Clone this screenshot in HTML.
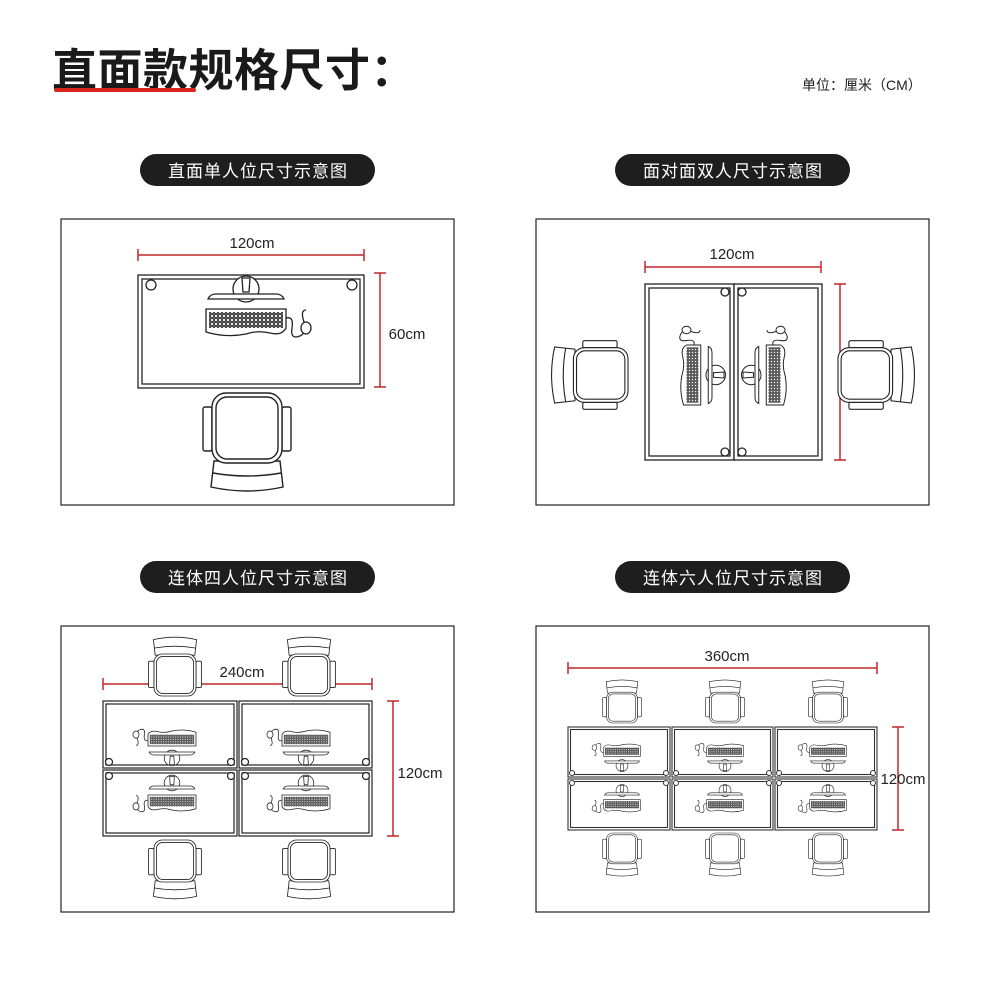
<!DOCTYPE html>
<html><head><meta charset="utf-8"><style>
html,body{margin:0;padding:0;background:#fff;}
svg{display:block;}
text{font-family:"Liberation Sans","Noto Sans CJK SC",sans-serif;}
</style></head><body>
<svg width="990" height="983" viewBox="0 0 990 983" xmlns="http://www.w3.org/2000/svg">
<defs>
<pattern id="keys" width="4" height="4" patternUnits="userSpaceOnUse"><rect width="4" height="4" fill="#fff"/><rect x="0.6" y="0.6" width="2.8" height="2.8" fill="none" stroke="#222" stroke-width="0.9"/></pattern>
<g id="ws" fill="#fff" stroke="#222" stroke-width="1.3">
  <circle cx="0" cy="-25" r="13"/>
  <path d="M-4,-36 L4,-36 L3,-22 L-3,-22 Z" fill="none"/>
  <path d="M-38,-15 Q-36,-20 -30,-20 L30,-20 Q36,-20 38,-15 Z"/>
  <path d="M-40,-5 L40,-5 L40,14 Q36,22 24,19 Q12,16 0,20 Q-20,24 -40,18 Z"/>
  <rect x="-37" y="-2" width="74" height="16" fill="url(#keys)" stroke="none"/>
  <path d="M40,4 Q48,2 46,14 Q44,26 54,22 Q62,18 58,8 Q54,-4 60,-4" fill="none"/>
  <ellipse cx="60" cy="14" rx="5" ry="6" fill="#fff"/>
</g>
<g id="ch" fill="#fff" stroke="#222" stroke-width="1.4">
  <path d="M-33,18 L33,18 L36,44 Q0,52 -36,44 Z"/>
  <path d="M-34,30 Q0,36 34,30" fill="none"/>
  <rect x="-44" y="-36" width="9" height="44" rx="2"/>
  <rect x="35" y="-36" width="9" height="44" rx="2"/>
  <rect x="-35" y="-50" width="70" height="70" rx="14"/>
  <rect x="-31" y="-46" width="62" height="62" rx="11"/>
</g>
</defs>

<!-- header -->
<text x="52" y="86" font-size="45" font-weight="bold" fill="#1a1a1a" letter-spacing="0.5">直面款规格尺寸：</text>
<rect x="54" y="88" width="142" height="4" rx="2" fill="#d9261c"/>
<text x="802" y="90" font-size="14" fill="#222">单位：厘米（CM）</text>

<!-- pills -->
<g font-size="17" fill="#fff" text-anchor="middle" letter-spacing="1">
<rect x="140" y="154" width="235" height="32" rx="16" fill="#1e1e1e"/><text x="258" y="177" fill="#fff">直面单人位尺寸示意图</text>
<rect x="615" y="154" width="235" height="32" rx="16" fill="#1e1e1e"/><text x="733" y="177" fill="#fff">面对面双人尺寸示意图</text>
<rect x="140" y="561" width="235" height="32" rx="16" fill="#1e1e1e"/><text x="258" y="584" fill="#fff">连体四人位尺寸示意图</text>
<rect x="615" y="561" width="235" height="32" rx="16" fill="#1e1e1e"/><text x="733" y="584" fill="#fff">连体六人位尺寸示意图</text>
</g>

<!-- panel frames -->
<g fill="none" stroke="#222" stroke-width="1.2">
<rect x="61" y="219" width="393" height="286"/>
<rect x="536" y="219" width="393" height="286"/>
<rect x="61" y="626" width="393" height="286"/>
<rect x="536" y="626" width="393" height="286"/>
</g>

<!-- dims -->
<g stroke="#c0282d" stroke-width="1.5" fill="none">
<path d="M138,255 H364 M138,249 V261 M364,249 V261"/>
<path d="M380,273 V387 M374,273 H386 M374,387 H386"/>
<path d="M645,267 H821 M645,261 V273 M821,261 V273"/>
<path d="M840,284 V460 M834,284 H846 M834,460 H846"/>
<path d="M103,684 H372 M103,678 V690 M372,678 V690"/>
<path d="M393,701 V836 M387,701 H399 M387,836 H399"/>
<path d="M568,668 H877 M568,662 V674 M877,662 V674"/>
<path d="M898,727 V830 M892,727 H904 M892,830 H904"/>
</g>
<g font-size="15" fill="#222" text-anchor="middle">
<text x="252" y="248">120cm</text>
<text x="407" y="339">60cm</text>
<text x="732" y="259">120cm</text>
<text x="866" y="384">120cm</text>
<text x="242" y="677">240cm</text>
<text x="420" y="778">120cm</text>
<text x="727" y="661">360cm</text>
<text x="903" y="784">120cm</text>
</g>

<!-- P1 -->
<g fill="#fff" stroke="#222" stroke-width="1.3">
<rect x="138" y="275" width="226" height="113"/>
<rect x="142" y="279" width="218" height="105"/>
<circle cx="151" cy="285" r="5"/><circle cx="352" cy="285" r="5"/>
</g>
<use href="#ws" transform="translate(246,314)"/>
<use href="#ch" transform="translate(247,443)"/>

<!-- P2 -->
<g fill="#fff" stroke="#222" stroke-width="1.3">
<rect x="645" y="284" width="89" height="176"/><rect x="649" y="288" width="81" height="168"/>
<rect x="734" y="284" width="88" height="176"/><rect x="738" y="288" width="80" height="168"/>
<circle cx="725" cy="292" r="4"/><circle cx="742" cy="292" r="4"/>
<circle cx="725" cy="452" r="4"/><circle cx="742" cy="452" r="4"/>
</g>
<use href="#ws" transform="translate(697,375) rotate(90) scale(-0.75,0.75)"/>
<use href="#ws" transform="translate(770,375) rotate(-90) scale(0.75)"/>
<use href="#ch" transform="translate(589,375) rotate(90) scale(0.78)"/>
<use href="#ch" transform="translate(877,375) rotate(-90) scale(0.78)"/>

<!-- P3 -->
<use href="#ch" transform="translate(175,666) rotate(180) scale(0.6)"/>
<use href="#ch" transform="translate(309,666) rotate(180) scale(0.6)"/>
<use href="#ch" transform="translate(175,870) scale(0.6)"/>
<use href="#ch" transform="translate(309,870) scale(0.6)"/>
<g fill="#fff" stroke="#222" stroke-width="1.2">
<rect x="103" y="701" width="134" height="67"/><rect x="106" y="704" width="128" height="61"/>
<rect x="239" y="701" width="133" height="67"/><rect x="242" y="704" width="127" height="61"/>
<rect x="103" y="770" width="134" height="66"/><rect x="106" y="773" width="128" height="60"/>
<rect x="239" y="770" width="133" height="66"/><rect x="242" y="773" width="127" height="60"/>
<circle cx="109" cy="762" r="3.5"/><circle cx="231" cy="762" r="3.5"/><circle cx="245" cy="762" r="3.5"/><circle cx="366" cy="762" r="3.5"/>
<circle cx="109" cy="776" r="3.5"/><circle cx="231" cy="776" r="3.5"/><circle cx="245" cy="776" r="3.5"/><circle cx="366" cy="776" r="3.5"/>
</g>
<use href="#ws" transform="translate(172,743) rotate(180) scale(0.6)"/>
<use href="#ws" transform="translate(306,743) rotate(180) scale(0.6)"/>
<use href="#ws" transform="translate(172,798) scale(-0.6,0.6)"/>
<use href="#ws" transform="translate(306,798) scale(-0.6,0.6)"/>

<!-- P4 -->
<use href="#ch" transform="translate(622,701) rotate(180) scale(0.44)"/>
<use href="#ch" transform="translate(725,701) rotate(180) scale(0.44)"/>
<use href="#ch" transform="translate(828,701) rotate(180) scale(0.44)"/>
<use href="#ch" transform="translate(622,855) scale(0.44)"/>
<use href="#ch" transform="translate(725,855) scale(0.44)"/>
<use href="#ch" transform="translate(828,855) scale(0.44)"/>
<g fill="#fff" stroke="#333" stroke-width="1.1">
<rect x="568" y="727" width="102" height="50"/><rect x="570.5" y="729.5" width="97" height="45"/>
<rect x="672" y="727" width="101" height="50"/><rect x="674.5" y="729.5" width="96" height="45"/>
<rect x="775" y="727" width="102" height="50"/><rect x="777.5" y="729.5" width="97" height="45"/>
<rect x="568" y="779" width="102" height="51"/><rect x="570.5" y="781.5" width="97" height="46"/>
<rect x="672" y="779" width="101" height="51"/><rect x="674.5" y="781.5" width="96" height="46"/>
<rect x="775" y="779" width="102" height="51"/><rect x="777.5" y="781.5" width="97" height="46"/>
<g stroke-width="1">
<circle cx="572" cy="773" r="2.5"/><circle cx="666" cy="773" r="2.5"/><circle cx="676" cy="773" r="2.5"/><circle cx="769" cy="773" r="2.5"/><circle cx="779" cy="773" r="2.5"/><circle cx="873" cy="773" r="2.5"/>
<circle cx="572" cy="783" r="2.5"/><circle cx="666" cy="783" r="2.5"/><circle cx="676" cy="783" r="2.5"/><circle cx="769" cy="783" r="2.5"/><circle cx="779" cy="783" r="2.5"/><circle cx="873" cy="783" r="2.5"/>
</g>
</g>
<use href="#ws" transform="translate(622,754) rotate(180) scale(0.46)"/>
<use href="#ws" transform="translate(725,754) rotate(180) scale(0.46)"/>
<use href="#ws" transform="translate(828,754) rotate(180) scale(0.46)"/>
<use href="#ws" transform="translate(622,802) scale(-0.46,0.46)"/>
<use href="#ws" transform="translate(725,802) scale(-0.46,0.46)"/>
<use href="#ws" transform="translate(828,802) scale(-0.46,0.46)"/>
</svg>
</body></html>
